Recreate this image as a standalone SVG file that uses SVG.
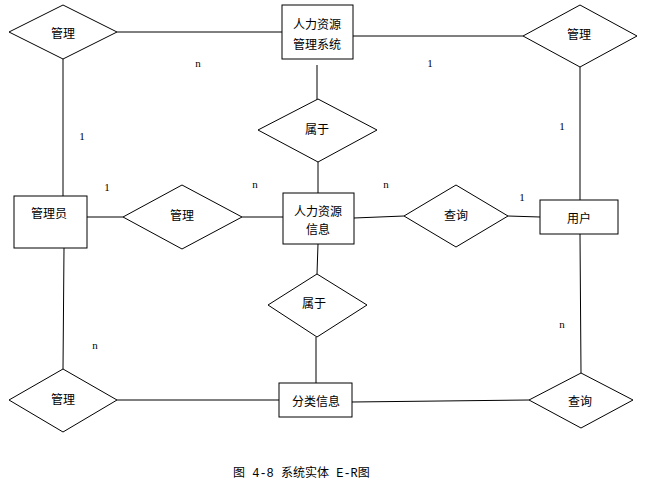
<svg xmlns="http://www.w3.org/2000/svg" width="653" height="483" viewBox="0 0 653 483">
<style>
.shape{fill:#fff;stroke:#000;stroke-width:1}
.ln{stroke:#000;stroke-width:1;fill:none}
.t{font-family:"Noto Sans CJK SC","Liberation Sans",sans-serif;font-size:12px;text-anchor:middle;dominant-baseline:central;fill:#000}
.c{font-family:"Liberation Serif",serif;font-size:11px;text-anchor:middle;dominant-baseline:central;fill:#000}
.cap{font-family:"Liberation Mono","Noto Sans CJK SC",monospace;font-size:12px;fill:#000}
</style>
<rect width="653" height="483" fill="#fff"/>
<g id="connectors">
<line class="ln" x1="117" y1="32" x2="282" y2="32"/>
<line class="ln" x1="353" y1="36" x2="523" y2="36"/>
<line class="ln" x1="580" y1="67" x2="580" y2="200"/>
<line class="ln" x1="580" y1="234" x2="581" y2="373"/>
<line class="ln" x1="352" y1="402" x2="529" y2="400"/>
<line class="ln" x1="117" y1="400" x2="279" y2="400"/>
<line class="ln" x1="63" y1="59" x2="63" y2="196"/>
<line class="ln" x1="64" y1="248" x2="63" y2="369"/>
<line class="ln" x1="87" y1="217" x2="123" y2="217"/>
<line class="ln" x1="242" y1="217" x2="283" y2="217"/>
<line class="ln" x1="317" y1="65" x2="317" y2="108"/>
<line class="ln" x1="318" y1="162" x2="318" y2="193"/>
<line class="ln" x1="318" y1="244" x2="317" y2="274"/>
<line class="ln" x1="316" y1="337" x2="316" y2="383"/>
<line class="ln" x1="354" y1="218" x2="404" y2="216"/>
<line class="ln" x1="508" y1="216" x2="540" y2="217"/>
</g>
<g id="labels">
<text class="c" x="198" y="63">n</text>
<text class="c" x="430" y="63">1</text>
<text class="c" x="82" y="136">1</text>
<text class="c" x="562" y="126">1</text>
<text class="c" x="107" y="187">1</text>
<text class="c" x="255" y="184">n</text>
<text class="c" x="386" y="184">n</text>
<text class="c" x="522" y="197">1</text>
<text class="c" x="562" y="324">n</text>
<text class="c" x="95" y="345">n</text>
</g>
<g id="rel-manage-tl">
<polygon class="shape" points="9,32 63,5 117,32 63,59"/>
<text class="t" x="63" y="32">管理</text>
</g>
<g id="ent-hrsys">
<rect class="shape" x="282" y="5" width="71" height="54"/>
<text class="t" x="317" y="23">人力资源</text>
<text class="t" x="317" y="43">管理系统</text>
</g>
<g id="rel-manage-tr">
<polygon class="shape" points="523,36 580,5 637,36 580,67"/>
<text class="t" x="579" y="33">管理</text>
</g>
<g id="rel-belong-top">
<polygon class="shape" points="258,130 318,99 377,130 318,162"/>
<text class="t" x="317" y="128">属于</text>
</g>
<g id="ent-admin">
<rect class="shape" x="14" y="196" width="73" height="52"/>
<text class="t" x="49" y="212">管理员</text>
</g>
<g id="rel-manage-mid">
<polygon class="shape" points="123,217 182,185 242,217 182,249"/>
<text class="t" x="182" y="214">管理</text>
</g>
<g id="ent-hrinfo">
<rect class="shape" x="283" y="193" width="71" height="51"/>
<text class="t" x="318" y="210">人力资源</text>
<text class="t" x="318" y="228">信息</text>
</g>
<g id="rel-query-mid">
<polygon class="shape" points="404,216 456,185 508,216 456,247"/>
<text class="t" x="456" y="214">查询</text>
</g>
<g id="ent-user">
<rect class="shape" x="540" y="200" width="78" height="34"/>
<text class="t" x="579" y="217">用户</text>
</g>
<g id="rel-belong-bottom">
<polygon class="shape" points="268,305 317,274 367,305 317,337"/>
<text class="t" x="314" y="302">属于</text>
</g>
<g id="rel-manage-bl">
<polygon class="shape" points="9,400 63,369 117,400 63,432"/>
<text class="t" x="63" y="398">管理</text>
</g>
<g id="ent-category">
<rect class="shape" x="279" y="383" width="73" height="34"/>
<text class="t" x="316" y="400">分类信息</text>
</g>
<g id="rel-query-br">
<polygon class="shape" points="529,400 581,373 633,400 581,428"/>
<text class="t" x="580" y="400">查询</text>
</g>
<text class="cap" x="233" y="477">图 4-8 系统实体 E-R图</text>
</svg>
